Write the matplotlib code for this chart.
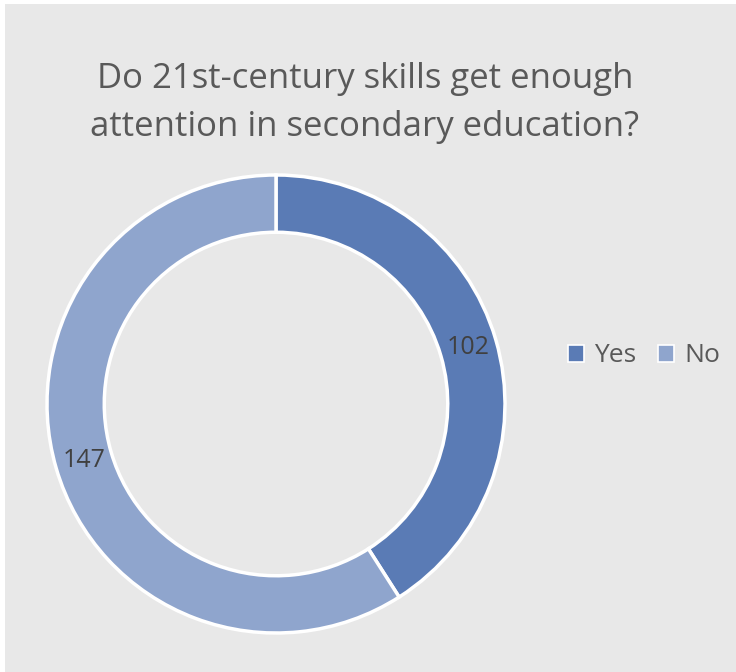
import matplotlib
matplotlib.use("Agg")
import matplotlib.pyplot as plt
from matplotlib.patches import Rectangle, Patch

categories = ["Yes", "No"]
counts = [102, 147]
colors = ["#5a7bb5", "#8fa5cd"]
title = "Do 21st-century skills get enough\nattention in secondary education?"

W, H = 736, 672
fig = plt.figure(figsize=(W / 100, H / 100), dpi=100, facecolor="white")

# chart area background
fig.patches.append(Rectangle((5 / W, 0), (W - 5) / W, (H - 4) / H,
                             transform=fig.transFigure, facecolor="#e8e8e8",
                             edgecolor="none", zorder=-10))

cx, cy, r = 276, 404, 229
ax = fig.add_axes([(cx - r) / W, (H - cy - r) / H, 2 * r / W, 2 * r / H])
ax.set_zorder(2)
ax.set_facecolor("none")
total = sum(counts)
wedges, _, autotexts = ax.pie(
    counts, colors=colors, startangle=90, counterclock=False, radius=1,
    wedgeprops=dict(width=0.25, edgecolor="white", linewidth=2.5),
    autopct=lambda p: f"{round(p * total / 100)}", pctdistance=0.875,
    textprops=dict(fontsize=18, color="#404040", family="Open Sans"))
ax.set_xlim(-1.0, 1.0)
ax.set_ylim(-1.0, 1.0)
ax.set_aspect("equal")
ax.axis("off")

fig.text(365 / W, 1 - 103 / H, title, ha="center", va="center",
         fontsize=25, color="#595959", family="Open Sans", linespacing=1.5)

handles = [Patch(facecolor=c, edgecolor="white", linewidth=1.2) for c in colors]
fig.legend(handles, categories, loc="center", bbox_to_anchor=(644 / W, 1 - 356 / H),
           ncol=2, frameon=False, handlelength=0.6, handleheight=0.6,
           handletextpad=0.4, columnspacing=0.8,
           prop=dict(family="Open Sans", size=19), labelcolor="#595959")

fig.savefig("out.png", dpi=100, facecolor="white")
